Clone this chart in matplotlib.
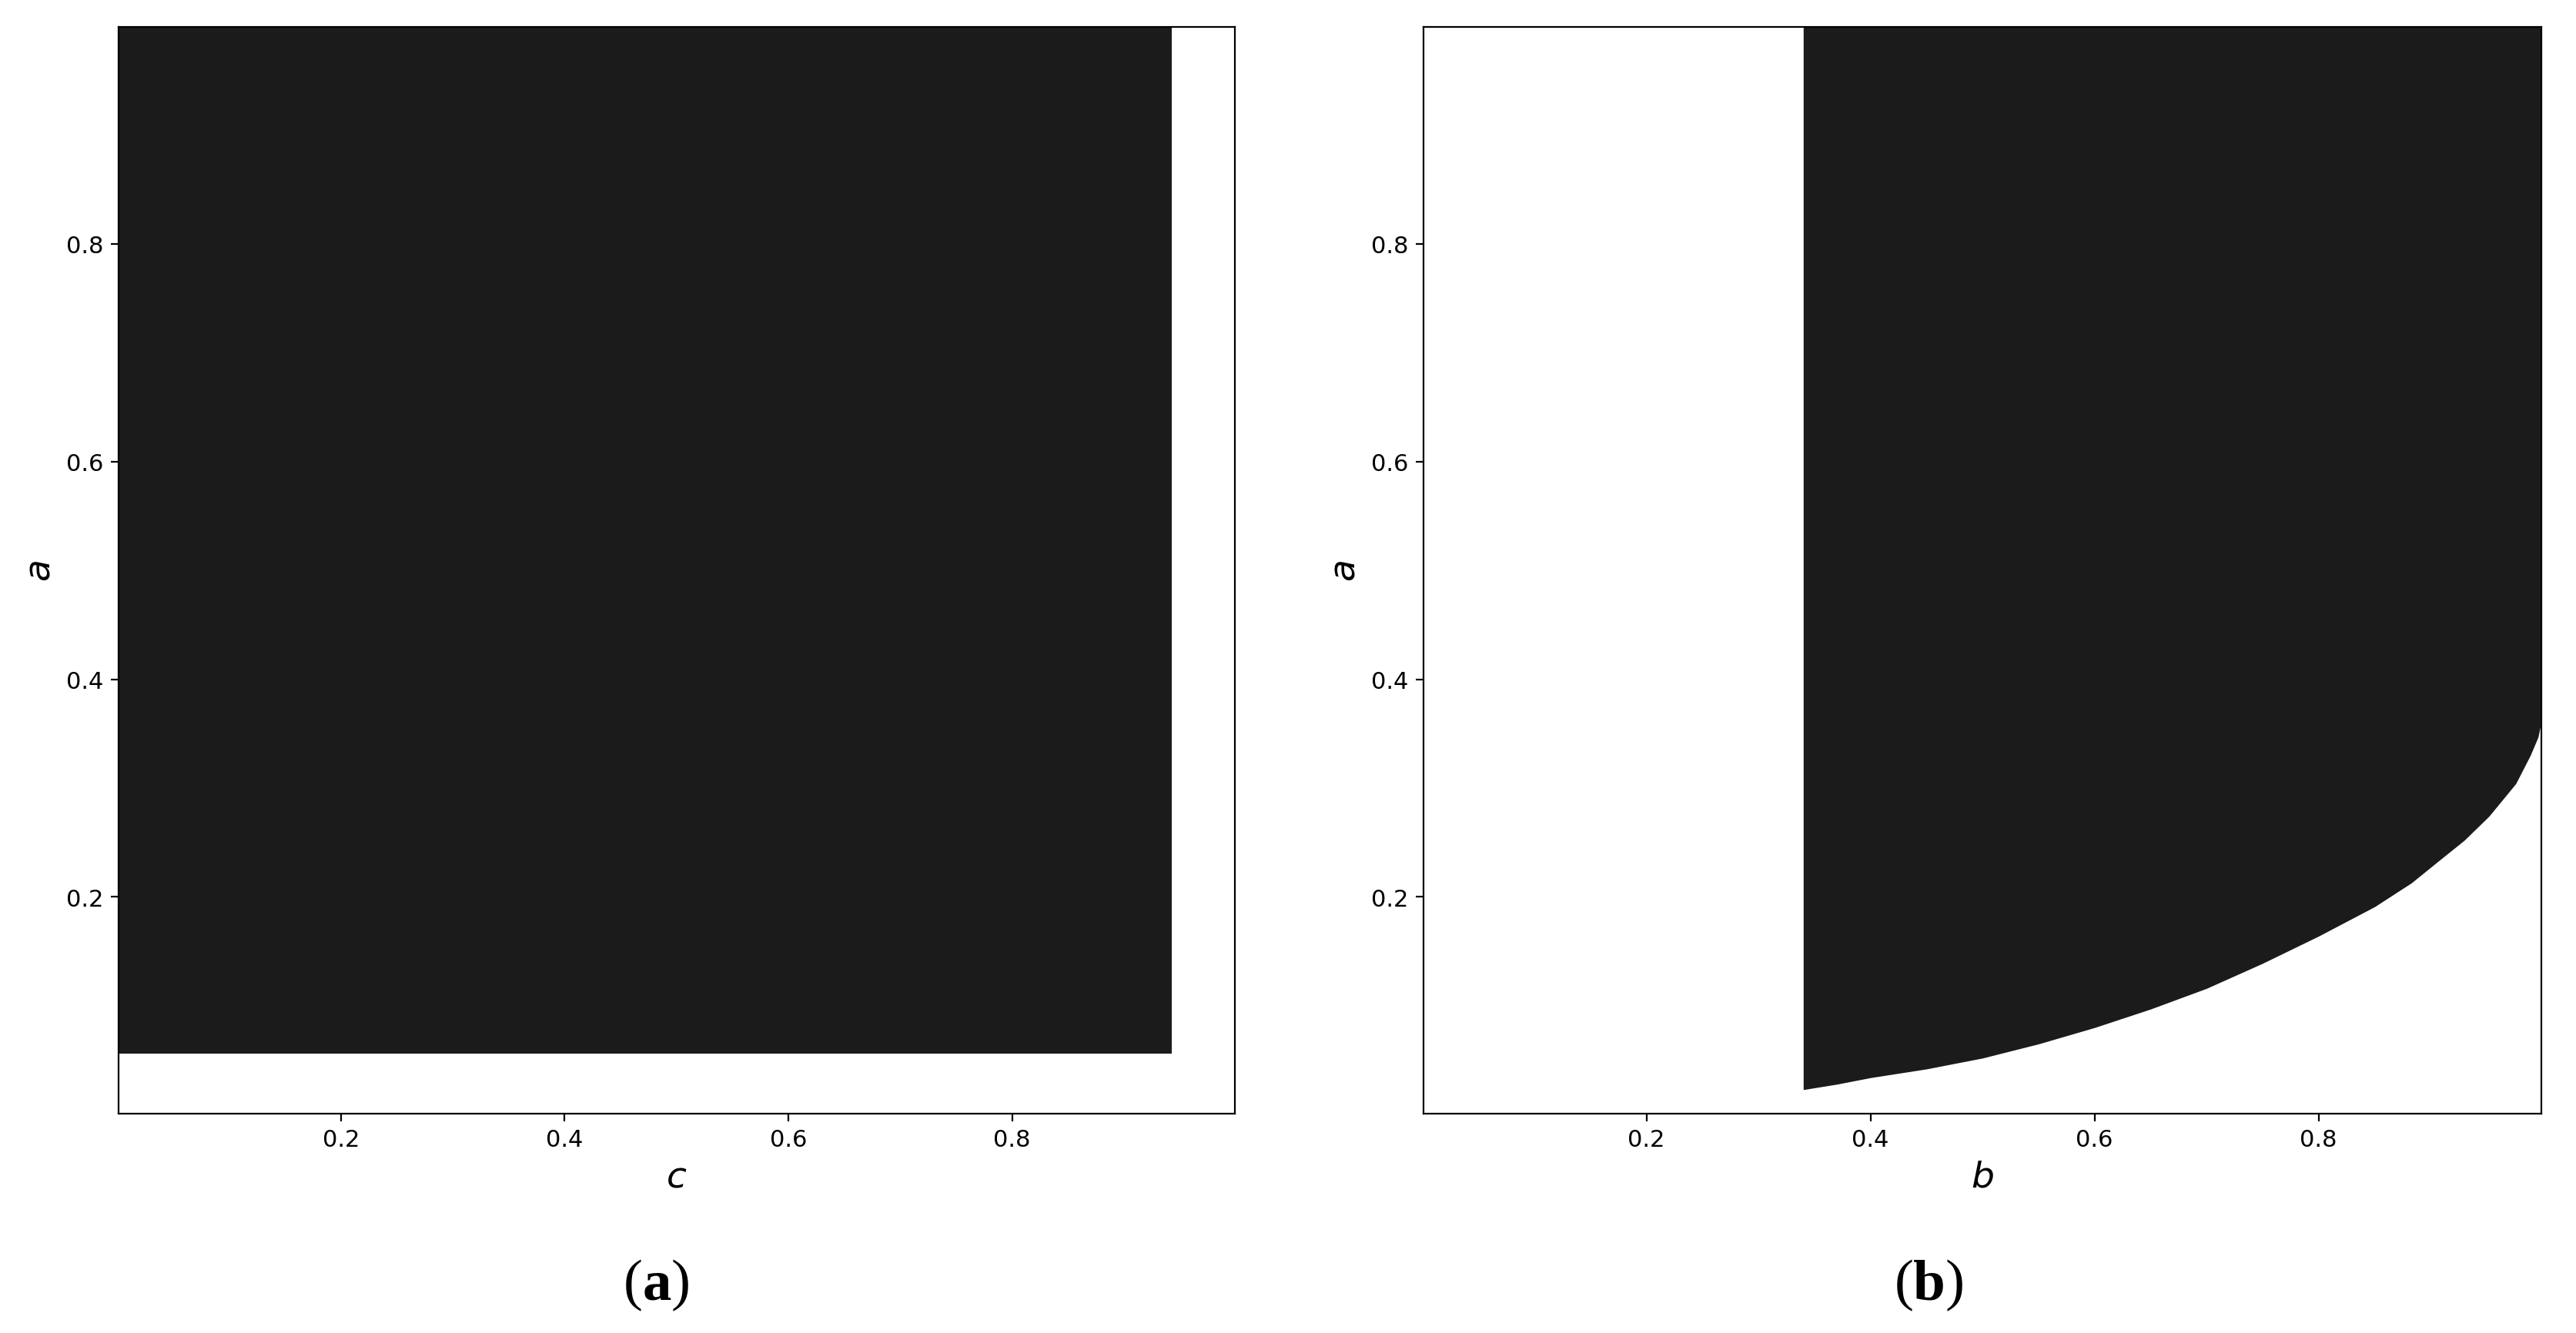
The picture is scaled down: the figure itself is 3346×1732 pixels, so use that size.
import numpy as np
import matplotlib.pyplot as plt
from matplotlib.offsetbox import TextArea, HPacker, AnchoredOffsetbox

# panel (a): feasible region in the (c, a) plane
c_region = [0.001, 0.943]
a_floor_a = 0.056

# panel (b): lower boundary of the feasible region in the (b, a) plane
b_edge = [0.34, 0.37, 0.40, 0.45, 0.50, 0.55, 0.60, 0.65, 0.70, 0.75, 0.80,
          0.85, 0.883, 0.907, 0.930, 0.952, 0.976, 0.989, 0.996, 0.999]
a_edge = [0.023, 0.028, 0.034, 0.042, 0.052, 0.065, 0.080, 0.097, 0.116,
          0.139, 0.164, 0.191, 0.213, 0.233, 0.252, 0.274, 0.304, 0.330,
          0.347, 0.362]

lim = (0.001, 0.999)
ticks = [0.2, 0.4, 0.6, 0.8]
fill_col = '#1b1b1b'

fig = plt.figure(figsize=(16.73, 8.665), dpi=200)
ax1 = fig.add_axes([0.0459, 0.1645, 0.4334, 0.8146])
ax2 = fig.add_axes([0.5526, 0.1645, 0.4340, 0.8146])

ax1.fill_between(c_region, [a_floor_a] * 2, [lim[1]] * 2, color=fill_col, lw=0)
ax2.fill_between(b_edge, a_edge, [lim[1]] * len(b_edge), color=fill_col, lw=0)

for ax, xl in [(ax1, '$c$'), (ax2, '$b$')]:
    ax.set_xlim(lim)
    ax.set_ylim(lim)
    ax.set_xticks(ticks)
    ax.set_yticks(ticks)
    ax.tick_params(labelsize=11)
    ax.set_xlabel(xl, fontsize=17)
    ax.set_ylabel('$a$', fontsize=17)


def caption(letter, x):
    reg = dict(fontsize=27, family='Liberation Serif')
    bold = dict(reg, fontweight='bold')
    box = HPacker(children=[TextArea('(', textprops=reg),
                            TextArea(letter, textprops=bold),
                            TextArea(')', textprops=reg)],
                  sep=0, pad=0, align='baseline')
    fig.add_artist(AnchoredOffsetbox(loc='center', child=box, pad=0, borderpad=0,
                                     bbox_to_anchor=(x, 0.036),
                                     bbox_transform=fig.transFigure,
                                     frameon=False))


caption('a', 0.255)
caption('b', 0.749)

plt.savefig('out.png', dpi=200)
